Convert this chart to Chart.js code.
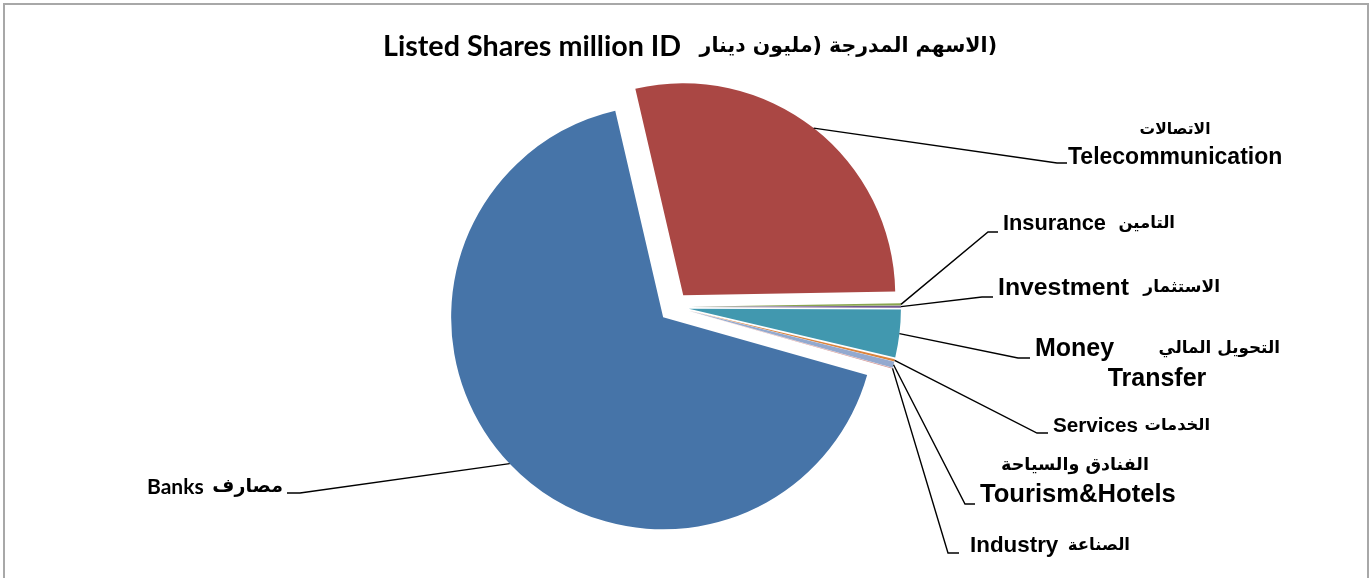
<!DOCTYPE html>
<html lang="ar">
<head>
<meta charset="UTF-8">
<title>Listed Shares million ID</title>
<script src="https://cdn.jsdelivr.net/npm/chart.js@4.4.0/dist/chart.umd.min.js"></script>
<style>
body{margin:0;background:#fff;overflow:hidden}
#frame{position:absolute;left:3px;top:3px;width:1362px;height:620px;border:2px solid #a8a8a8}
#c{position:absolute;left:0;top:0}
</style>
</head>
<body>
<div id="frame"></div>
<canvas id="c" width="1371" height="578"></canvas>
<script>
/* ---------- data ---------- */
const sectorsEn = ['Banks','Telecommunication','Insurance','Investment','Money Transfer','Services','Tourism&Hotels','Industry'];
const sectorsAr = ['مصارف','الاتصالات','التامين','الاستثمار','التحويل المالي','الخدمات','الفنادق والسياحة','الصناعة'];
const sharesMillionID = [6699, 2836, 17, 15, 364, 17, 47, 6];
const titleEn = 'Listed Shares million ID';
const titleAr = '(الاسهم المدرجة (مليون دينار';

/* ---------- look ---------- */
const sliceColors = ['#4674a8','#aa4744','#89a54e','#71588f','#4198af','#db843d','#93a9cf','#d19392'];
const explodeDist = 15;
const EN = 'bold {s}px "Liberation Sans", Arial, sans-serif';
const CAL = 'bold {s}px Lato, "Liberation Sans", sans-serif';
const AR = 'bold {s}px "DejaVu Sans", sans-serif';
const f = (tpl,s)=>tpl.replace('{s}',s);

// label placement, offsets from the pie centre (manual placement like the original)
// elbow = where the leader bends, tick = end of the short horizontal piece
const labelLayout = [
  {elbow:[-374,186], tick:[-387,186], texts:[
    {s:sectorsEn[0], x:-527, y:180, align:'left', font:f(CAL,21)},
    {s:sectorsAr[0], x:-391, y:180, align:'right', font:f(AR,19), rtl:true}]},
  {elbow:[383,-144], tick:[393,-144], texts:[
    {s:sectorsAr[1], x:501, y:-177, align:'center', font:f(AR,15.5), rtl:true},
    {s:sectorsEn[1], x:394, y:-149, align:'left', font:f(EN,23)}]},
  {elbow:[314,-75], tick:[324,-75], texts:[
    {s:sectorsEn[2], x:329, y:-83, align:'left', font:f(EN,21.8)},
    {s:sectorsAr[2], x:501, y:-83, align:'right', font:f(AR,16.5), rtl:true}]},
  {elbow:[308,-10], tick:[319,-10], texts:[
    {s:sectorsEn[3], x:324, y:-19, align:'left', font:f(EN,24.8)},
    {s:sectorsAr[3], x:546, y:-19, align:'right', font:f(AR,17), rtl:true}]},
  {elbow:[344,51], tick:[356,51], texts:[
    {s:'Money', x:361, y:42, align:'left', font:f(EN,25)},
    {s:sectorsAr[4], x:606, y:42, align:'right', font:f(AR,16.8), rtl:true},
    {s:'Transfer', x:483, y:72, align:'center', font:f(EN,25)}]},
  {elbow:[363,126], tick:[374,126], texts:[
    {s:sectorsEn[5], x:379, y:119, align:'left', font:f(EN,20.7)},
    {s:sectorsAr[5], x:536, y:119, align:'right', font:f(AR,16.3), rtl:true}]},
  {elbow:[291,197], tick:[301,197], texts:[
    {s:sectorsAr[6], x:401, y:158, align:'center', font:f(AR,17.5), rtl:true},
    {s:sectorsEn[6], x:306, y:188, align:'left', font:f(EN,25.6)}]},
  {elbow:[274,246], tick:[285,246], texts:[
    {s:sectorsEn[7], x:296, y:239, align:'left', font:f(EN,22.4)},
    {s:sectorsAr[7], x:456, y:239, align:'right', font:f(AR,16.5), rtl:true}]}
];
const titleLayout = [
  {s:titleEn, x:-291, y:-260, align:'left', font:f(CAL,28.7)},
  {s:titleAr, x:323, y:-260, align:'right', font:f(AR,20.5), rtl:true}
];

/* ---------- plugins ---------- */
// push every slice out along its bisector (Excel style explode)
const explodePlugin = {
  id:'explode',
  afterDatasetsUpdate(chart){
    chart.getDatasetMeta(0).data.forEach(arc=>{
      const mid=(arc.startAngle+arc.endAngle)/2;
      arc.x+=Math.cos(mid)*explodeDist;
      arc.y+=Math.sin(mid)*explodeDist;
    });
  }
};

function drawText(ctx,t,cx,cy){
  ctx.font=t.font;
  ctx.textAlign=t.align;
  ctx.direction=t.rtl?'rtl':'ltr';
  ctx.fillText(t.s,cx+t.x,cy+t.y);
}

const labelsPlugin = {
  id:'sliceLabels',
  afterDatasetsDraw(chart){
    const {ctx,chartArea:a}=chart;
    const cx=(a.left+a.right)/2, cy=(a.top+a.bottom)/2;
    ctx.save();
    ctx.strokeStyle='#000'; ctx.lineWidth=1.4; ctx.fillStyle='#000';
    ctx.textBaseline='middle';
    chart.getDatasetMeta(0).data.forEach((arc,i)=>{
      const L=labelLayout[i]; if(!L) return;
      const mid=(arc.startAngle+arc.endAngle)/2;
      ctx.beginPath();
      ctx.moveTo(arc.x+Math.cos(mid)*arc.outerRadius, arc.y+Math.sin(mid)*arc.outerRadius);
      ctx.lineTo(cx+L.elbow[0], cy+L.elbow[1]);
      ctx.lineTo(cx+L.tick[0], cy+L.tick[1]);
      ctx.stroke();
      L.texts.forEach(t=>drawText(ctx,t,cx,cy));
    });
    titleLayout.forEach(t=>drawText(ctx,t,cx,cy));
    ctx.restore();
  }
};

/* ---------- chart ---------- */
new Chart(document.getElementById('c'),{
  type:'pie',
  data:{labels:sectorsEn,datasets:[{data:sharesMillionID,backgroundColor:sliceColors,
    borderWidth:0,radius:212,clip:false}]},
  options:{
    responsive:false,animation:false,rotation:105.8,
    layout:{padding:{left:0,right:23,top:90,bottom:54}},
    plugins:{legend:{display:false},tooltip:{enabled:false},title:{display:false}}
  },
  plugins:[explodePlugin,labelsPlugin]
});
</script>
</body>
</html>
